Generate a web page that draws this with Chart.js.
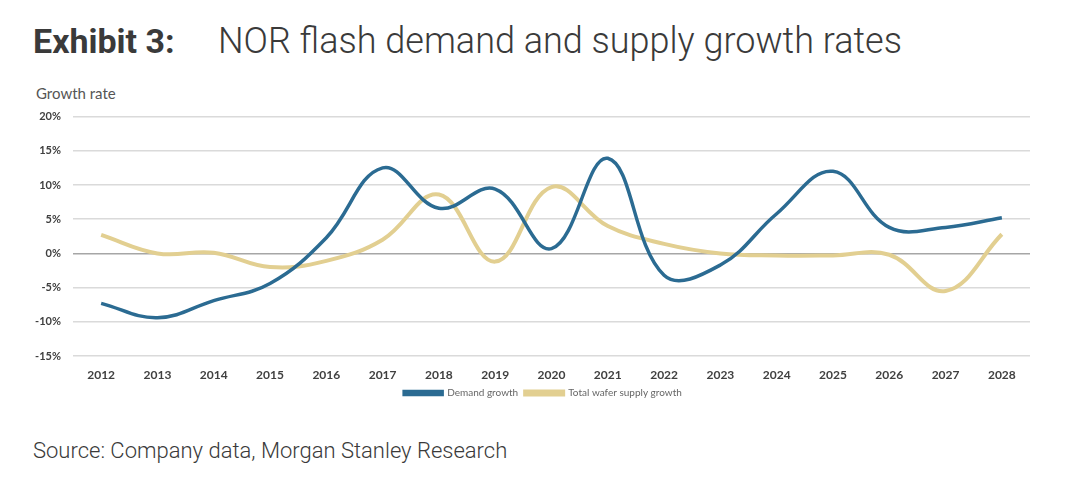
<!DOCTYPE html>
<html>
<head>
<meta charset="utf-8">
<script src="https://cdn.jsdelivr.net/npm/chart.js@4.4.1/dist/chart.umd.min.js"></script>
<style>
  body { margin: 0; background: #fff; width: 1074px; height: 490px; position: relative; overflow: hidden; }
  .t { position: absolute; font-family: Roboto, sans-serif; white-space: nowrap; }
  #ex { left: 33px; top: 24px; font-size: 34px; line-height: 34px; font-weight: 700; color: #3a3a3a; }
  #ttl { left: 218px; top: 23px; font-size: 36px; line-height: 36px; font-weight: 300; color: #3a3a3a; }
  #ylab { left: 36px; top: 84px; font-family: Lato, sans-serif; font-size: 15px; color: #555; position: absolute; }
  #src { left: 33px; top: 440px; font-size: 22px; line-height: 22px; font-weight: 300; color: #3a3a3a; }
  #wrap { position: absolute; left: 0; top: 98px; width: 1074px; height: 312px; }
</style>
</head>
<body>
<div class="t" id="ex">Exhibit 3:</div>
<div class="t" id="ttl">NOR flash demand and supply growth rates</div>
<div id="ylab">Growth rate</div>
<div id="wrap"><canvas id="growthChart"></canvas></div>
<div class="t" id="src">Source: Company data, Morgan Stanley Research</div>
<script>
const years = ['2012', '2013', '2014', '2015', '2016', '2017', '2018', '2019', '2020',
               '2021', '2022', '2023', '2024', '2025', '2026', '2027', '2028'];
const demandGrowth = [-7.3, -9.4, -6.9, -4.4, 2.3, 12.5, 6.6, 9.4, 0.7,
                      13.9, -3.2, -1.7, 5.8, 12.0, 3.8, 3.8, 5.2];
const supplyGrowth = [2.7, 0.0, 0.1, -2.0, -1.1, 2.0, 8.6, -1.2, 9.7,
                      4.0, 1.4, 0.0, -0.3, -0.3, -0.2, -5.5, 2.8];
const yTicks = [-15, -10, -5, 0, 5, 10, 15, 20];

// legend sits a little right of the plot centre in the exhibit
const legendShift = {
    id: 'legendShift',
    afterLayout(chart) {
        chart.legend.left += 28;
        chart.legend.right += 28;
    }
};

const ctx = document.getElementById('growthChart').getContext('2d');
const growthChart = new Chart(ctx, {
    type: 'line',
    data: {
        labels: years,
        datasets: [{
            label: 'Demand growth',
            data: demandGrowth,
            borderColor: '#2b6b92',
            backgroundColor: '#2b6b92',
            borderWidth: 3.5,
            pointRadius: 0,
            tension: 0.4
        }, {
            label: 'Total wafer supply growth',
            data: supplyGrowth,
            borderColor: '#e2cf91',
            backgroundColor: '#e2cf91',
            borderWidth: 4,
            pointRadius: 0,
            tension: 0.4
        }]
    },
    options: {
        responsive: true,
        maintainAspectRatio: false,
        animation: false,
        layout: { padding: { top: 14, right: 44, left: 0, bottom: 2 } },
        plugins: {
            tooltip: { enabled: false },
            legend: {
                position: 'bottom',
                labels: {
                    boxWidth: 38,
                    boxHeight: 3,
                    padding: 7,
                    color: '#666',
                    font: { family: 'Lato', size: 10 }
                }
            }
        },
        scales: {
            x: {
                offset: true,
                grid: { display: false, drawTicks: false },
                border: { display: false },
                ticks: {
                    color: '#404040',
                    padding: 12,
                    maxRotation: 0,
                    font: { family: 'Lato', size: 12, weight: 'bold' }
                },
                afterFit: (scale) => { scale.height = 25; }
            },
            y: {
                min: -15,
                max: 20,
                afterBuildTicks: (scale) => { scale.ticks = yTicks.map(v => ({ value: v })); },
                grid: {
                    drawTicks: false,
                    lineWidth: 1.5,
                    color: (c) => (c.tick && c.tick.value === 0) ? '#a6a6a6' : '#dadada'
                },
                border: { display: false },
                ticks: {
                    color: '#404040',
                    padding: 12,
                    font: { family: 'Lato', size: 11, weight: 'bold' },
                    callback: (v) => v + '%'
                },
                afterFit: (scale) => { scale.width = 73; }
            }
        }
    },
    plugins: [legendShift]
});
</script>
</body>
</html>
